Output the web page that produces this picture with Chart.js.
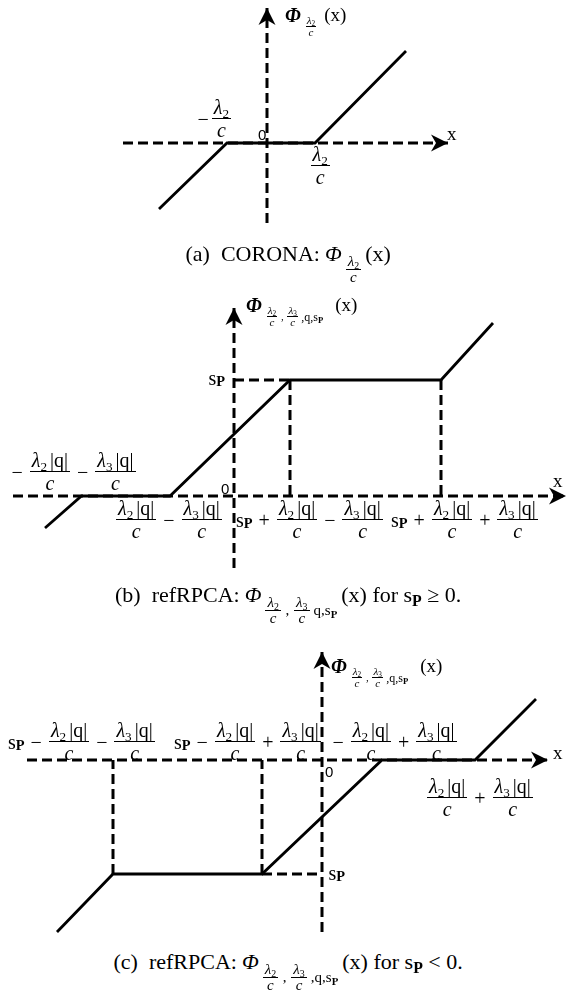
<!DOCTYPE html>
<html><head><meta charset="utf-8">
<script src="https://cdn.jsdelivr.net/npm/chart.js@4.4.1/dist/chart.umd.min.js"></script>
<style>
html,body{margin:0;padding:0;background:#fff;}
#page{position:relative;width:568px;height:996px;overflow:hidden;font-family:"Liberation Serif","Times New Roman",serif;color:#000;}
canvas{position:absolute;left:0;}
.lbl{position:absolute;white-space:nowrap;font-size:20px;line-height:1;display:inline-flex;align-items:center;}
.fr{display:inline-flex;flex-direction:column;align-items:center;margin:0 1px;}
.fr>.n{border-bottom:1.5px solid #000;padding:0 2px 1px;line-height:1.02;}
.fr>.d{line-height:1.02;padding-top:1px;}
.op{margin:0 6px;}
.sb{font-size:0.66em;position:relative;top:0.3em;}
.q{margin-left:3px;}
.bp{font-weight:bold;font-size:0.72em;position:relative;top:0.25em;}
.zero{font-family:"Liberation Sans",Arial,sans-serif;font-size:15px;}
.phi{font-weight:bold;font-style:italic;font-size:20px;}
.ax{font-size:19px;}
.ssub{font-size:11px;position:relative;top:12px;display:inline-flex;align-items:center;margin-left:4px;}
.ssub .tail{font-size:12px;}
.ssub .fr>.n{border-bottom-width:1px;padding:0 1px 0;}
.ssub .fr>.d{padding-top:0;}
.cap{position:absolute;white-space:nowrap;font-size:22px;line-height:1;display:inline-flex;align-items:center;}
.csub{font-size:15px;position:relative;top:16px;display:inline-flex;align-items:center;margin-left:3px;}
.csub .fr>.n{border-bottom-width:1px;padding:0 2px 0;}
.csub .fr>.d{padding-top:0;}
</style>
</head><body>
<div id="page">
<canvas id="ca" width="568" height="240" style="top:0px"></canvas>
<canvas id="cb" width="568" height="300" style="top:290px"></canvas>
<canvas id="cc" width="568" height="300" style="top:640px"></canvas>
</div>
<script>
// ---------- data (units: axis-origin based) ----------
// (a) CORONA soft-threshold
const A_curveX = [-10.8, -4.0, 4.8, 13.9];
const A_curveY = [-6.6, 0, 0, 9.2];
const A_xAxisX = [-14.4, 18.1];
const A_yAxisY = [-8.0, 13.5];
const A_xRange = [-26.7, 30.1];
const A_yRange = [-9.7, 14.3];

// (b) refRPCA, sP >= 0
const B_curveX = [-18.9, -15.25, -6.4, 5.6, 20.7, 25.9];
const B_curveY = [-3.2, 0, 0, 11.6, 11.6, 17.3];
const B_sP = 11.6;
const B_guideX = [5.6, 20.7];
const B_xAxisX = [-22.1, 33.2];
const B_yAxisY = [-7.2, 18.8];
const B_xRange = [-23.4, 33.4];
const B_yRange = [-9.4, 20.6];

// (c) refRPCA, sP < 0
const C_curveX = [-26.5, -20.9, -6.0, 6.0, 15.3, 21.4];
const C_curveY = [-17.2, -11.4, -11.4, 0, 0, 6.1];
const C_sP = -11.4;
const C_guideX = [-20.9, -6.0];
const C_xAxisX = [-29.5, 22.6];
const C_yAxisY = [-17.2, 10.8];
const C_xRange = [-32.2, 24.6];
const C_yRange = [-18.0, 12.0];

// ---------- text helpers ----------
const L2 = '<i>λ</i><span class="sb">2</span>';
const L3 = '<i>λ</i><span class="sb">3</span>';
const Q = '<span class="q">|q|</span>';
const Ci = '<i>c</i>';
const SP = 's<span class="bp">P</span>';
const fr = (n, d) => `<span class="fr"><span class="n">${n}</span><span class="d">${d}</span></span>`;
const op = s => `<span class="op">${s}</span>`;
const F2 = fr(L2 + Q, Ci), F3 = fr(L3 + Q, Ci);
const PHI_A = `<span class="phi">Φ</span><span class="ssub">${fr(L2, Ci)}</span><span class="ax" style="margin-left:7px">(x)</span>`;
const PHI_BC = `<span class="phi">Φ</span><span class="ssub">${fr(L2, Ci)}<span>&nbsp;,&nbsp;</span>${fr(L3, Ci)}<span class="tail">&thinsp;,q,${SP}</span></span><span class="ax" style="margin-left:12px">(x)</span>`;

// label anchors in data units of each panel
const A_labels = [
  {x: -5.2, y: 2.4, html: '<span style="margin-right:2px">−</span>' + fr(L2, Ci)},
  {x: 5.3, y: -2.3, html: fr(L2, Ci)},
  {x: -0.5, y: 0.9, html: '0', cls: 'zero'},
  {x: 18.5, y: 1.0, html: 'x', cls: 'ax'},
  {x: 1.8, y: 12.8, html: PHI_A, anchor: 'l'}
];
const B_labels = [
  {x: -16.3, y: 2.4, html: op('−') + F2 + op('−') + F3},
  {x: -0.9, y: 0.8, html: '0', cls: 'zero'},
  {x: -6.5, y: -2.4, html: F2 + op('−') + F3},
  {x: 7.6, y: -2.4, html: SP + op('+') + F2 + op('−') + F3},
  {x: 23.1, y: -2.4, html: SP + op('+') + F2 + op('+') + F3},
  {x: 32.4, y: 1.6, html: 'x', cls: 'ax'},
  {x: -1.7, y: 11.8, html: SP},
  {x: 1.2, y: 19.1, html: PHI_BC, anchor: 'l'}
];
const C_labels = [
  {x: -24.0, y: 1.8, html: SP + op('−') + F2 + op('−') + F3},
  {x: -7.4, y: 1.8, html: SP + op('−') + F2 + op('+') + F3},
  {x: 7.0, y: 1.8, html: op('−') + F2 + op('+') + F3},
  {x: 15.8, y: -3.8, html: F2 + op('+') + F3},
  {x: 0.7, y: -1.1, html: '0', cls: 'zero'},
  {x: 23.6, y: 0.8, html: 'x', cls: 'ax'},
  {x: 1.5, y: -11.3, html: SP},
  {x: 0.9, y: 9.4, html: PHI_BC, anchor: 'l'}
];

const captions = [
  {cy: 254, html: `(a)&nbsp; CORONA: <i style="margin-left:5px">Φ</i><span class="csub">${fr(L2, Ci)}</span><span style="margin-left:3px">(x)</span>`},
  {cy: 595, html: `(b)&nbsp; refRPCA: <i style="margin-left:5px">Φ</i><span class="csub">${fr(L2, Ci)}<span>&nbsp;,&nbsp;</span>${fr(L3, Ci)}<span>&thinsp;q,${SP}</span></span><span style="margin-left:4px">(x) for ${SP} ≥ 0.</span>`},
  {cy: 962, html: `(c)&nbsp; refRPCA: <i style="margin-left:5px">Φ</i><span class="csub">${fr(L2, Ci)}<span>&nbsp;,&nbsp;</span>${fr(L3, Ci)}<span>&thinsp;,q,${SP}</span></span><span style="margin-left:4px">(x) for ${SP} &lt; 0.</span>`}
];

// ---------- chart building ----------
const zip = (xs, ys) => xs.map((x, i) => ({x, y: ys[i]}));
const solid = data => ({data, showLine: true, borderColor: '#000', borderWidth: 2.8, pointRadius: 0, fill: false});
const dashed = (data, arrow) => ({data, showLine: true, borderColor: '#000', borderWidth: 3, borderDash: [10, 5], borderCapStyle: 'butt', pointRadius: 0, fill: false, arrow: !!arrow});

const arrowPlugin = {
  id: 'arrows',
  afterDatasetsDraw(chart) {
    const ctx = chart.ctx;
    chart.data.datasets.forEach((ds, i) => {
      if (!ds.arrow) return;
      const pts = chart.getDatasetMeta(i).data;
      const p1 = pts[pts.length - 1], p0 = pts[pts.length - 2];
      const dx = p1.x - p0.x, dy = p1.y - p0.y, len = Math.hypot(dx, dy);
      const ux = dx / len, uy = dy / len;
      const L = 17, W = 8.5, N = 5;
      ctx.save();
      ctx.fillStyle = '#000';
      ctx.beginPath();
      ctx.moveTo(p1.x, p1.y);
      ctx.lineTo(p1.x - L * ux - W * uy, p1.y - L * uy + W * ux);
      ctx.lineTo(p1.x - (L - N) * ux, p1.y - (L - N) * uy);
      ctx.lineTo(p1.x - L * ux + W * uy, p1.y - L * uy - W * ux);
      ctx.closePath();
      ctx.fill();
      ctx.restore();
    });
  }
};

function makeChart(id, datasets, xr, yr) {
  return new Chart(document.getElementById(id), {
    type: 'scatter',
    data: {datasets},
    options: {
      responsive: false, animation: false, devicePixelRatio: 1, events: [],
      layout: {padding: 0},
      plugins: {legend: {display: false}, tooltip: {enabled: false}},
      elements: {line: {tension: 0}, point: {radius: 0}},
      scales: {
        x: {type: 'linear', display: false, min: xr[0], max: xr[1]},
        y: {type: 'linear', display: false, min: yr[0], max: yr[1]}
      }
    },
    plugins: [arrowPlugin]
  });
}

const chartA = makeChart('ca', [
  solid(zip(A_curveX, A_curveY)),
  dashed(zip(A_xAxisX, [0, 0]), true),
  dashed(zip([0, 0], A_yAxisY), true)
], A_xRange, A_yRange);

const chartB = makeChart('cb', [
  solid(zip(B_curveX, B_curveY)),
  dashed(zip([0, B_guideX[0]], [B_sP, B_sP])),
  dashed(zip([B_guideX[0], B_guideX[0]], [B_sP, 0])),
  dashed(zip([B_guideX[1], B_guideX[1]], [B_sP, 0])),
  dashed(zip(B_xAxisX, [0, 0]), true),
  dashed(zip([0, 0], B_yAxisY), true)
], B_xRange, B_yRange);

const chartC = makeChart('cc', [
  solid(zip(C_curveX, C_curveY)),
  dashed(zip([C_guideX[1], 0], [C_sP, C_sP])),
  dashed(zip([C_guideX[0], C_guideX[0]], [C_sP, 0])),
  dashed(zip([C_guideX[1], C_guideX[1]], [C_sP, 0])),
  dashed(zip(C_xAxisX, [0, 0]), true),
  dashed(zip([0, 0], C_yAxisY), true)
], C_xRange, C_yRange);

const page = document.getElementById('page');
function placeLabels(chart, canvasTop, specs) {
  specs.forEach(s => {
    const el = document.createElement('div');
    el.className = 'lbl ' + (s.cls || '');
    el.innerHTML = s.html;
    page.appendChild(el);
    const px = chart.scales.x.getPixelForValue(s.x);
    const py = chart.scales.y.getPixelForValue(s.y) + canvasTop;
    const w = el.offsetWidth, h = el.offsetHeight;
    const left = s.anchor === 'l' ? px : px - w / 2;
    el.style.left = left + 'px';
    el.style.top = (py - h / 2) + 'px';
  });
}
placeLabels(chartA, 0, A_labels);
placeLabels(chartB, 290, B_labels);
placeLabels(chartC, 640, C_labels);

captions.forEach(c => {
  const el = document.createElement('div');
  el.className = 'cap';
  el.innerHTML = c.html;
  page.appendChild(el);
  el.style.left = (288 - el.offsetWidth / 2) + 'px';
  el.style.top = (c.cy - el.offsetHeight / 2) + 'px';
});
</script>
</body></html>
